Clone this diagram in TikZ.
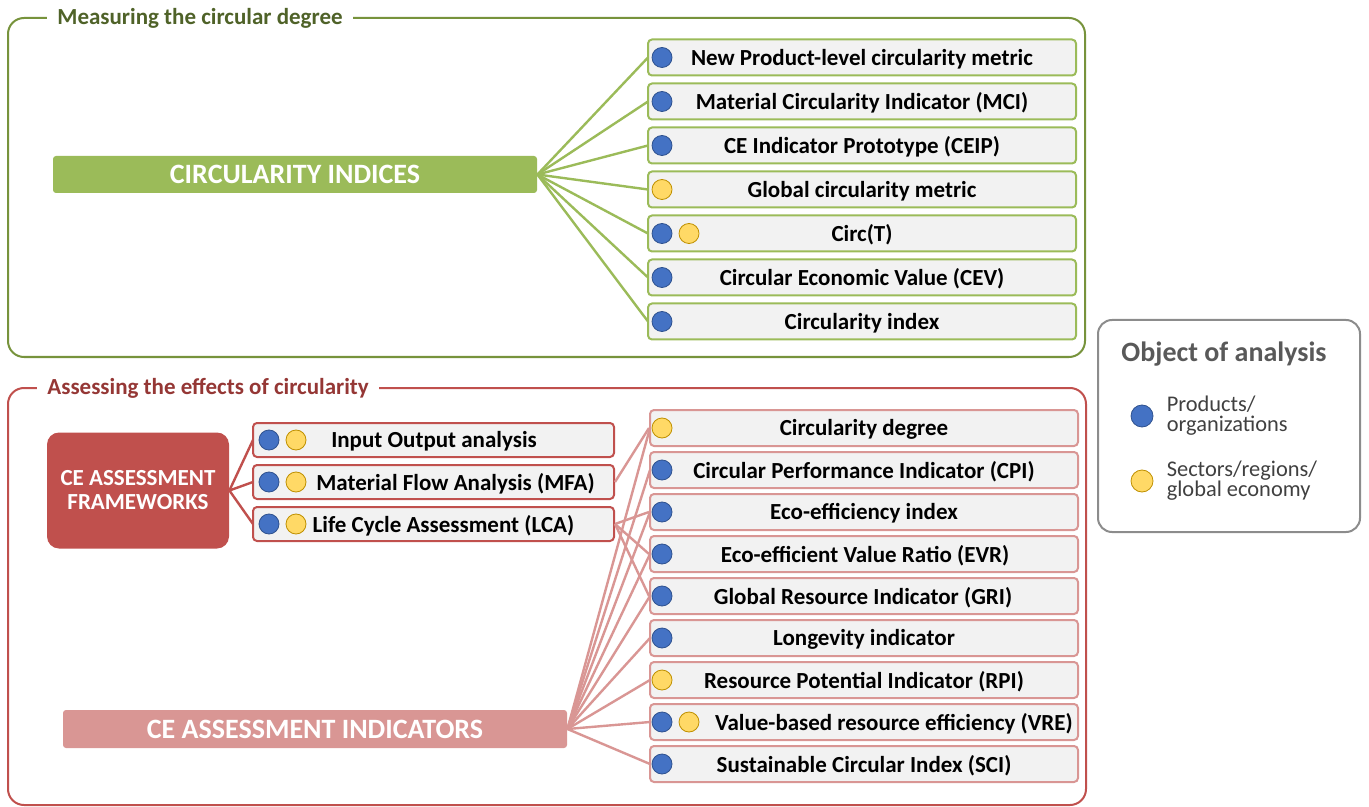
\documentclass[tikz,border=0pt]{standalone}
\usepackage{fontspec}
\setmainfont{Carlito}
\usetikzlibrary{positioning}

\definecolor{grnfill}{HTML}{9BBB59}
\definecolor{grnline}{HTML}{77933C}
\definecolor{grntxt}{HTML}{4F6228}
\definecolor{redfill}{HTML}{C0504D}
\definecolor{redtxt}{HTML}{953735}
\definecolor{pinkfill}{HTML}{D99694}
\definecolor{boxgray}{HTML}{F2F2F2}
\definecolor{dotblue}{HTML}{4472C4}
\definecolor{dotblueb}{HTML}{2F528F}
\definecolor{dotyel}{HTML}{FFD966}
\definecolor{dotyelb}{HTML}{BF9000}
\definecolor{legline}{HTML}{8C8C8C}
\definecolor{legtxt}{HTML}{595959}

\tikzset{
  groupframe/.style={line width=1pt, rounded corners=8pt},
  grouptitle/.style={fill=white, anchor=west, inner xsep=5pt,
    font=\bfseries\fontsize{11.5}{13}\selectfont},
  rootbox/.style={text=white, rounded corners=1.5pt,
    font=\bfseries\fontsize{14}{16}\selectfont},
  itembox/.style={draw, line width=1pt, fill=boxgray, rounded corners=2pt,
    minimum height=18pt, inner sep=0pt},
  itemtext/.style={inner sep=0pt, yshift=-0.8pt, font=\bfseries\fontsize{11.5}{13}\selectfont},
  bdot/.style={circle, fill=dotblue, draw=dotblueb, line width=0.4pt,
    minimum size=10pt, inner sep=0pt},
  ydot/.style={bdot, fill=dotyel, draw=dotyelb},
  link/.style={line width=1.2pt},
}

\begin{document}
\begin{tikzpicture}[x=0.5pt, y=-0.5pt]
  \useasboundingbox (0,0) rectangle (1369,807);

  % measuring the circular degree
  \draw[groupframe, draw=grnline] (8,18) rectangle (1085,357);
  \node[grouptitle, text=grntxt] (ttlmeas) at (47,18) {Measuring the circular degree};
  \node[rootbox, fill=grnfill, minimum width=242pt, minimum height=18.5pt]
    (ci) at (295,174.5) {CIRCULARITY INDICES};
  \foreach \i/\yy/\txt in {1/57.5/New Product-level circularity metric,
      2/101.5/Material Circularity Indicator (MCI),
      3/145.5/CE Indicator Prototype (CEIP),
      4/189.5/Global circularity metric,
      5/233.5/Circ(T),
      6/277.5/Circular Economic Value (CEV),
      7/321.5/Circularity index}
  {
    \draw[link, grnfill] (ci.east) -- (862-214,\yy) coordinate (mw\i);
    \node[itembox, draw=grnfill, minimum width=214pt] (m\i) at (862,\yy) {};
    \node[itemtext] (mt\i) at (862,\yy) {\txt};
  }
  \foreach \i in {1,2,3,5,6,7}
    \node[bdot] (mb\i) at ([xshift=7.5pt]m\i.west) {};
  \node[ydot] (my4) at ([xshift=7.5pt]m4.west) {};
  \node[ydot] (my5) at ([xshift=21pt]m5.west) {};

  % assessing the effects of circularity
  \draw[groupframe, draw=redfill] (8,388) rectangle (1086,805);
  \node[grouptitle, text=redtxt] (ttlass) at (37,388) {Assessing the effects of circularity};
  \node[rootbox, fill=redfill, rounded corners=6pt, minimum width=91pt, minimum height=58pt,
    align=center, font=\bfseries\fontsize{11.5}{12}\selectfont]
    (fw) at (138,490.5) {CE ASSESSMENT\\FRAMEWORKS};
  \node[rootbox, fill=pinkfill, minimum width=252pt, minimum height=19pt]
    (ind) at (315,729) {CE ASSESSMENT INDICATORS};

  \foreach \i/\yy/\tx/\txt in {1/440/434/Input Output analysis,
      2/482/455.5/Material Flow Analysis (MFA),
      3/524/443.5/Life Cycle Assessment (LCA)}
  {
    \draw[link, redfill] (fw.east) -- (253,\yy);
    \node[itembox, draw=redfill, minimum width=180.5pt, minimum height=17pt] (f\i) at (433.5,\yy) {};
    \node[itemtext] (ft\i) at (\tx,\yy) {\txt};
    \node[bdot] (fb\i) at ([xshift=8.5pt]f\i.west) {};
    \node[ydot] (fy\i) at ([xshift=22pt]f\i.west) {};
  }

  \foreach \i/\yy/\tx/\txt in {1/428/864/Circularity degree,
      2/470/864/Circular Performance Indicator (CPI),
      3/512/864/Eco-efficiency index,
      4/554/865/Eco-efficient Value Ratio (EVR),
      5/596/863/Global Resource Indicator (GRI),
      6/638/864/Longevity indicator,
      7/680/864/Resource Potential Indicator (RPI),
      8/722/894/Value-based resource efficiency (VRE),
      9/764/864/Sustainable Circular Index (SCI)}
  {
    \draw[link, pinkfill] (ind.east) -- (650,\yy);
    \node[itembox, draw=pinkfill, minimum width=214pt] (k\i) at (864,\yy) {};
    \node[itemtext] (kt\i) at (\tx,\yy) {\txt};
  }
  \draw[link, pinkfill] (f2.east) -- (k1.west);
  \draw[link, pinkfill] (f3.east) -- (k3.west);
  \draw[link, pinkfill] (f3.east) -- (k4.west);
  \draw[link, pinkfill] (f3.east) -- (k5.west);
  \foreach \i in {2,3,4,5,6,8,9}
    \node[bdot] (kb\i) at ([xshift=6.5pt]k\i.west) {};
  \node[ydot] (ky1) at ([xshift=6.5pt]k1.west) {};
  \node[ydot] (ky7) at ([xshift=6.5pt]k7.west) {};
  \node[ydot] (ky8) at ([xshift=20pt]k8.west) {};

  % legend
  \draw[legline, line width=1pt, rounded corners=7pt] (1098,320) rectangle (1360,532);
  \node[text=legtxt, font=\bfseries\fontsize{14}{16}\selectfont] (legttl) at (1224,354) {Object of analysis};
  \node[bdot, minimum size=11pt] (legb) at (1142,416) {};
  \node[right=6.5pt of legb, inner sep=0pt, align=left, text=black!75,
    font=\fontsize{11.2}{10}\selectfont] (legbt) {Products/\\organizations};
  \node[ydot, minimum size=11pt] (legy) at (1142,481) {};
  \node[right=6.5pt of legy, inner sep=0pt, align=left, text=black!75,
    font=\fontsize{11.2}{10}\selectfont] (legyt) {Sectors/regions/\\global economy};
\end{tikzpicture}
\end{document}
